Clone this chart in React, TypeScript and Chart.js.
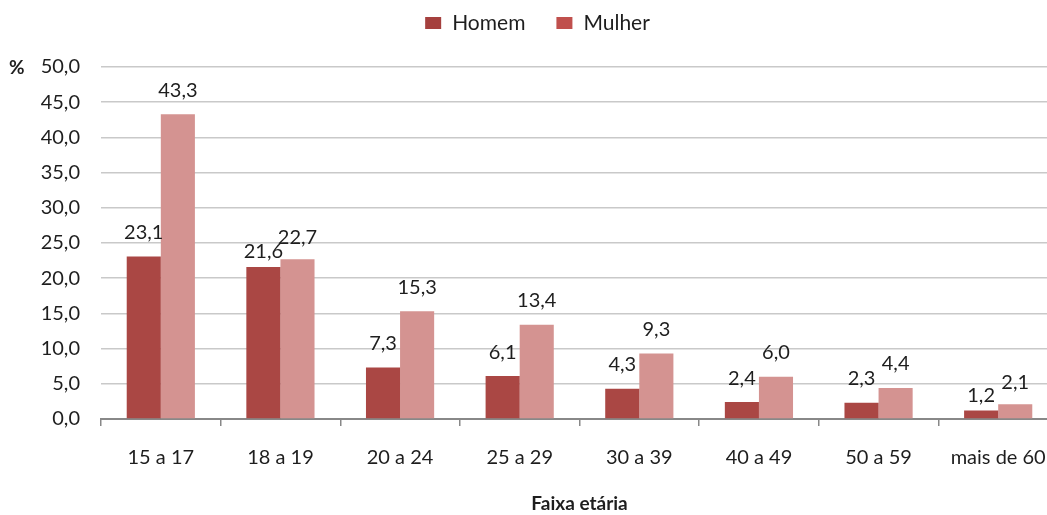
import React, { useEffect, useRef } from "react";
import { Chart, registerables } from "chart.js";

Chart.register(...registerables);

const categories = ["15 a 17", "18 a 19", "20 a 24", "25 a 29", "30 a 39", "40 a 49", "50 a 59", "mais de 60"];
const homem = [23.1, 21.6, 7.3, 6.1, 4.3, 2.4, 2.3, 1.2];
const mulher = [43.3, 22.7, 15.3, 13.4, 9.3, 6.0, 4.4, 2.1];
const seriesNames = ["Homem", "Mulher"];
const yTitle = "%";
const xTitle = "Faixa etária";

const FONT = "Lato, 'Open Sans', sans-serif";
const TEXT = "#1e1e1e";
const BAR_COLORS = ["#AA4744", "#D49391"];
const LEGEND_COLORS = ["#A5403E", "#C0504D"];
const fmt = (v: number) => v.toFixed(1).replace(".", ",");

const extras = {
  id: "extras",
  afterDatasetsDraw(chart: any) {
    const ctx = chart.ctx;
    ctx.save();
    // data labels (with simple collision avoidance between the pair of a category)
    ctx.font = `20px ${FONT}`;
    ctx.fillStyle = TEXT;
    ctx.textAlign = "center";
    ctx.textBaseline = "middle";
    const m0 = chart.getDatasetMeta(0).data;
    const m1 = chart.getDatasetMeta(1).data;
    const d0 = chart.data.datasets[0].data;
    const d1 = chart.data.datasets[1].data;
    m0.forEach((e0: any, j: number) => {
      const e1 = m1[j];
      let y0 = e0.y - 24;
      let y1 = e1.y - 24;
      if (Math.abs(y0 - y1) < 12) {
        y0 = e0.y - 15;
        y1 = e1.y - 22;
      }
      ctx.fillText(fmt(d0[j]), e0.x, y0);
      ctx.fillText(fmt(d1[j]), e1.x, y1);
    });
    // "%" axis label
    ctx.font = `bold 19px ${FONT}`;
    ctx.textAlign = "left";
    ctx.fillText(yTitle, 9, chart.scales.y.getPixelForValue(50) + 1);

    // legend
    ctx.font = `21px ${FONT}`;
    const sw = 16, sh = 12, gapText = 11, gapItem = 31;
    const widths = seriesNames.map((n) => ctx.measureText(n).width);
    const total = widths.reduce((a, w) => a + sw + gapText + w, 0) + gapItem * (seriesNames.length - 1);
    let x = chart.width / 2 - total / 2;
    const cy = 23;
    seriesNames.forEach((n, i) => {
      ctx.fillStyle = LEGEND_COLORS[i];
      ctx.fillRect(x, cy - sh / 2, sw, sh);
      x += sw + gapText;
      ctx.fillStyle = TEXT;
      ctx.fillText(n, x, cy);
      x += widths[i] + gapItem;
    });
    ctx.restore();
  },
};

export default function App() {
  const ref = useRef<HTMLCanvasElement>(null);
  useEffect(() => {
    if (!ref.current) return;
    const chart = new Chart(ref.current, {
      type: "bar",
      data: {
        labels: categories,
        datasets: [
          { label: seriesNames[0], data: homem, backgroundColor: BAR_COLORS[0], categoryPercentage: 0.57, barPercentage: 1 },
          { label: seriesNames[1], data: mulher, backgroundColor: BAR_COLORS[1], categoryPercentage: 0.57, barPercentage: 1 },
        ],
      },
      options: {
        responsive: false,
        animation: false,
        devicePixelRatio: 1,
        layout: { padding: { top: 67, right: 17, left: 0, bottom: 0 } },
        plugins: {
          tooltip: { enabled: false },
          legend: { display: false },
        },
        scales: {
          x: {
            border: { color: "#888888", width: 2 },
            grid: { offset: true, drawOnChartArea: false, drawTicks: true, tickLength: 7, color: "#888888", lineWidth: 1.5 },
            ticks: { color: TEXT, font: { size: 20, family: FONT }, padding: 20 },
            title: { display: true, text: xTitle, color: TEXT, font: { size: 19, weight: "bold", family: FONT }, padding: { top: 10, bottom: 0 } },
            afterFit: (s: any) => { s.height = 96; },
          },
          y: {
            min: 0,
            max: 50,
            border: { display: false },
            grid: { color: "#C9C9C9", drawTicks: false, lineWidth: 1.5 },
            ticks: { stepSize: 5, color: TEXT, font: { size: 20, family: FONT }, padding: 21, callback: (v: any) => fmt(Number(v)) },
            afterFit: (s: any) => { s.width = 101; },
          },
        },
      },
      plugins: [extras],
    });
    return () => chart.destroy();
  }, []);
  return (
    <div style={{ position: "fixed", left: 0, top: 0, width: 1047, height: 515, overflow: "hidden", background: "#fff" }}>
      <canvas ref={ref} width={1075} height={515} style={{ display: "block" }} />
    </div>
  );
}
